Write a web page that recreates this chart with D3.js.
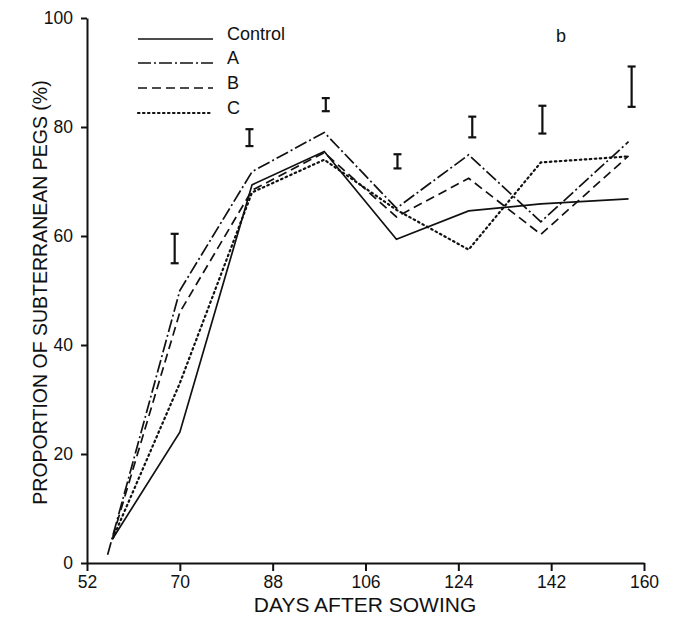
<!DOCTYPE html>
<html>
<head>
<meta charset="utf-8">
<script src="https://cdn.jsdelivr.net/npm/d3@7"></script>
<style>
  html, body { margin: 0; padding: 0; background: #fff; }
  svg { display: block; font-family: "Liberation Sans", Arial, Helvetica, sans-serif; }
</style>
</head>
<body>
<svg id="chart" width="673" height="621"></svg>
<script>
// ---- data ----
const xTicks = [52, 70, 88, 106, 124, 142, 160];
const yTicks = [0, 20, 40, 60, 80, 100];
const days = [70, 84, 98, 112, 126, 140, 157];
const seriesNames = ["Control", "A", "B", "C"];
const startDays = [57, 56, 57, 57];
const startValues = [4.5, 1.5, 4.8, 4.5];
const controlValues = [24, 69.4, 75.5, 59.4, 64.6, 65.9, 66.8];
const aValues = [50, 71.8, 79, 65.1, 74.9, 62.6, 77.3];
const bValues = [46, 68.4, 75.3, 63.5, 70.6, 60.3, 74.7];
const cValues = [33, 68, 74, 64.8, 57.5, 73.5, 74.6];
const errDays = [69, 83.5, 98.3, 112.2, 126.7, 140.3, 157.6];
const errLow = [55.0, 76.5, 82.9, 72.4, 78.1, 78.8, 83.7];
const errHigh = [60.4, 79.6, 85.3, 75.0, 81.9, 83.9, 91.1];
const dashStyles = ["none", "13,3,2,3", "9,5", "1.5,3.5"];

// ---- drawing ----
const svg = d3.select("#chart");
const x = d3.scaleLinear().domain([52, 160]).range([87, 644]);
const y = d3.scaleLinear().domain([0, 100]).range([563, 18]);

const xAxis = svg.append("g")
  .attr("transform", `translate(0,${y(0)})`)
  .call(d3.axisBottom(x).tickValues(xTicks).tickSize(8).tickSizeOuter(0).tickPadding(5));
const yAxis = svg.append("g")
  .attr("transform", `translate(${x(52)},0)`)
  .call(d3.axisLeft(y).tickValues(yTicks).tickSize(6).tickSizeOuter(0).tickPadding(8));
[xAxis, yAxis].forEach(g => {
  g.selectAll("path.domain").attr("stroke", "#111").attr("stroke-width", 2);
  g.selectAll(".tick line").attr("stroke", "#111").attr("stroke-width", 2);
  g.selectAll(".tick text").attr("fill", "#111").style("font-size", "17.5px")
    .style("font-family", "'Liberation Sans', Arial, sans-serif");
});

svg.append("text")
  .attr("x", 365).attr("y", 612)
  .attr("text-anchor", "middle")
  .style("font-size", "21px").attr("fill", "#111")
  .text("DAYS AFTER SOWING");
svg.append("text")
  .attr("transform", `translate(47,${(y(0) + y(100)) / 2 + 2}) rotate(-90)`)
  .attr("text-anchor", "middle")
  .style("font-size", "19.5px").attr("fill", "#111")
  .text("PROPORTION OF SUBTERRANEAN PEGS (%)");

svg.append("text")
  .attr("x", 561).attr("y", 42)
  .attr("text-anchor", "middle")
  .style("font-size", "18px").attr("fill", "#111")
  .text("b");

const allValues = [controlValues, aValues, bValues, cValues];
const line = d3.line().x(d => x(d[0])).y(d => y(d[1]));
allValues.forEach((vals, i) => {
  const pts = [[startDays[i], startValues[i]]].concat(days.map((d, j) => [d, vals[j]]));
  svg.append("path")
    .datum(pts)
    .attr("d", line)
    .attr("fill", "none")
    .attr("stroke", "#111")
    .attr("stroke-width", i === 3 ? 2.2 : 1.7)
    .attr("stroke-linecap", i === 3 ? "round" : "butt")
    .attr("stroke-dasharray", dashStyles[i]);
});

// error bars
const eb = svg.append("g").attr("stroke", "#111").attr("stroke-width", 2.2);
errDays.forEach((d, i) => {
  const cx = x(d);
  eb.append("line").attr("x1", cx).attr("x2", cx).attr("y1", y(errLow[i])).attr("y2", y(errHigh[i]));
  eb.append("line").attr("x1", cx - 4).attr("x2", cx + 4).attr("y1", y(errLow[i])).attr("y2", y(errLow[i]));
  eb.append("line").attr("x1", cx - 4).attr("x2", cx + 4).attr("y1", y(errHigh[i])).attr("y2", y(errHigh[i]));
});

// legend
const legY = [39, 63, 88, 113];
const leg = svg.append("g");
seriesNames.forEach((name, i) => {
  leg.append("line")
    .attr("x1", 138).attr("x2", 213).attr("y1", legY[i]).attr("y2", legY[i])
    .attr("stroke", "#111")
    .attr("stroke-width", i === 3 ? 2.2 : 1.7)
    .attr("stroke-linecap", i === 3 ? "round" : "butt")
    .attr("stroke-dasharray", dashStyles[i]);
  leg.append("text")
    .attr("x", 227).attr("y", legY[i] + 1)
    .style("font-size", "18px").attr("fill", "#111")
    .text(name);
});
</script>
</body>
</html>
